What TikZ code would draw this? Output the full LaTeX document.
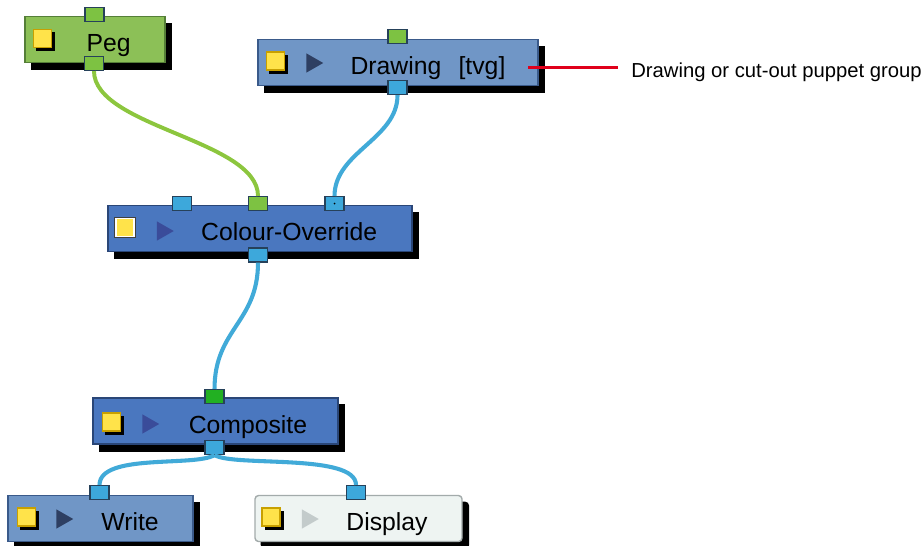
\documentclass[tikz,border=0pt]{standalone}
\usepackage{fontspec}
\setmainfont{Liberation Sans}
\usetikzlibrary{shapes.geometric,shadows}

\definecolor{pegfill}{HTML}{8CC057}
\definecolor{pegline}{HTML}{557F38}
\definecolor{lightfill}{HTML}{7096C6}
\definecolor{lightline}{HTML}{3A5A8A}
\definecolor{darkfill}{HTML}{4A77BF}
\definecolor{darkline}{HTML}{2A4677}
\definecolor{dispfill}{HTML}{EEF4F2}
\definecolor{displine}{HTML}{A3ABAB}
\definecolor{portblue}{HTML}{3DA8DB}
\definecolor{portgreen}{HTML}{7DC242}
\definecolor{portlime}{HTML}{22B022}
\definecolor{portline}{HTML}{26415A}
\definecolor{wireblue}{HTML}{41AAD8}
\definecolor{wiregreen}{HTML}{8CC63E}
\definecolor{markyellow}{HTML}{FFE34A}
\definecolor{markline}{HTML}{C8A000}
\definecolor{playdark}{HTML}{2E3F62}
\definecolor{playblue}{HTML}{3A4C9A}
\definecolor{playgray}{HTML}{C3CBCB}
\definecolor{pointred}{HTML}{E0001B}

\begin{document}
\begin{tikzpicture}[
    nbase/.style    = {rectangle, line width=1pt, inner sep=0pt,
                       minimum height=1.15cm,
                       copy shadow={shadow xshift=0.16cm, shadow yshift=-0.17cm,
                                    fill=black, draw=black}},
    pegbox/.style   = {nbase, fill=pegfill, draw=pegline},
    litebox/.style  = {nbase, fill=lightfill, draw=lightline},
    fxbox/.style    = {nbase, fill=darkfill, draw=darkline},
    dispbox/.style  = {nbase, fill=dispfill, draw=displine, rounded corners=2.5pt},
    pbase/.style    = {rectangle, draw=portline, line width=0.8pt, inner sep=0pt,
                       minimum width=0.475cm, minimum height=0.35cm},
    portb/.style    = {pbase, fill=portblue},
    portg/.style    = {pbase, fill=portgreen},
    portlg/.style   = {pbase, fill=portlime},
    marker/.style   = {rectangle, fill=markyellow, draw=markline, line width=0.8pt,
                       inner sep=0pt, minimum size=0.45cm,
                       copy shadow={shadow xshift=0.08cm, shadow yshift=-0.08cm,
                                    fill=black, draw=black}},
    markerw/.style  = {rectangle, fill=markyellow, draw=white, line width=1pt,
                       inner sep=0pt, minimum size=0.45cm,
                       preaction={draw=black!75, line width=2.4pt}},
    play/.style     = {isosceles triangle, isosceles triangle stretches,
                       inner sep=0pt, minimum width=0.48cm, minimum height=0.42cm},
    nlabel/.style   = {inner sep=0pt, anchor=base, font=\fontsize{17.6pt}{20pt}\selectfont},
    note/.style     = {inner sep=0pt, anchor=base west, font=\fontsize{14.4pt}{17pt}\selectfont},
    bwire/.style    = {draw=wireblue, line width=2.9pt},
    gwire/.style    = {draw=wiregreen, line width=2.8pt},
    pointer/.style  = {draw=pointred, line width=2.3pt, shorten >=0.33cm},
  ]

  \useasboundingbox (0cm, 0cm) rectangle (23.100cm, -13.625cm);

  \node[pegbox, minimum width=3.500cm] (peg) at (2.375cm, -0.988cm) {};
  \node[litebox, minimum width=7.000cm] (drw) at (9.950cm, -1.563cm) {};
  \node[fxbox, minimum width=7.600cm] (cov) at (6.500cm, -5.713cm) {};
  \node[fxbox, minimum width=6.125cm] (comp) at (5.388cm, -10.525cm) {};
  \node[litebox, minimum width=4.625cm] (wrt) at (2.513cm, -12.963cm) {};
  \node[dispbox, minimum width=5.175cm] (disp) at (8.963cm, -12.963cm) {};

  \node[portg] (pegin) at (2.363cm, -0.363cm) {};
  \node[portg] (pegout) at (2.350cm, -1.588cm) {};
  \node[portg] (drwin) at (9.938cm, -0.913cm) {};
  \node[portb] (drwout) at (9.938cm, -2.188cm) {};
  \node[portb] (covin1) at (4.550cm, -5.088cm) {};
  \node[portg] (covin2) at (6.450cm, -5.088cm) {};
  \node[portb] (covin3) at (8.363cm, -5.088cm) {};
  \node[portb] (covout) at (6.450cm, -6.375cm) {};
  \node[portlg] (compin) at (5.363cm, -9.913cm) {};
  \node[portb] (compout) at (5.363cm, -11.188cm) {};
  \node[portb] (wrtin) at (2.488cm, -12.313cm) {};
  \node[portb] (dispin) at (8.900cm, -12.313cm) {};
  \fill[black] (covin3) circle (0.7pt);

  \node[marker] (pegm) at (1.063cm, -0.963cm) {};
  \node[marker] (drwm) at (6.888cm, -1.525cm) {};
  \node[markerw] (covm) at (3.125cm, -5.688cm) {};
  \node[marker] (compm) at (2.788cm, -10.550cm) {};
  \node[marker] (wrtm) at (0.663cm, -12.925cm) {};
  \node[marker] (dispm) at (6.775cm, -12.925cm) {};

  \node[play, fill=playdark] (drwp) at (7.800cm, -1.575cm) {};
  \node[play, fill=playblue] (covp) at (4.063cm, -5.775cm) {};
  \node[play, fill=playblue] (compp) at (3.700cm, -10.600cm) {};
  \node[play, fill=playdark] (wrtp) at (1.550cm, -12.975cm) {};
  \node[play, fill=playgray] (dispp) at (7.688cm, -12.975cm) {};

  \node[nlabel] (peglbl) at (2.713cm, -1.290cm) {Peg};
  \node[nlabel] (drwlbl) at (10.700cm, -1.863cm) {Drawing\hspace{0.7em}[tvg]};
  \node[nlabel] (covlbl) at (7.230cm, -6.010cm) {Colour-Override};
  \node[nlabel] (complbl) at (6.200cm, -10.825cm) {Composite};
  \node[nlabel] (wrtlbl) at (3.250cm, -13.263cm) {Write};
  \node[nlabel] (displbl) at (9.675cm, -13.263cm) {Display};
  \node[note] (drwnote) at (15.775cm, -1.925cm) {Drawing or cut-out puppet group};

  \draw[gwire] (pegout.south) .. controls +(0,-1.4) and +(0,1.4) .. (covin2.north);
  \draw[bwire] (drwout.south) .. controls +(0,-1.1) and +(0,1.1) .. (covin3.north);
  \draw[bwire] (covout.south) .. controls +(0,-1.5) and +(0,1.5) .. (compin.north);
  \draw[bwire] (compout.south) .. controls +(-0.5,-0.3) and +(0,0.8) .. (wrtin.north);
  \draw[bwire] (compout.south) .. controls +(0.5,-0.3) and +(0,0.8) .. (dispin.north);

  \coordinate (tip) at (13.200cm, -1.690cm);
  \draw[pointer] (tip) -- (tip -| drwnote.west);

\end{tikzpicture}
\end{document}
